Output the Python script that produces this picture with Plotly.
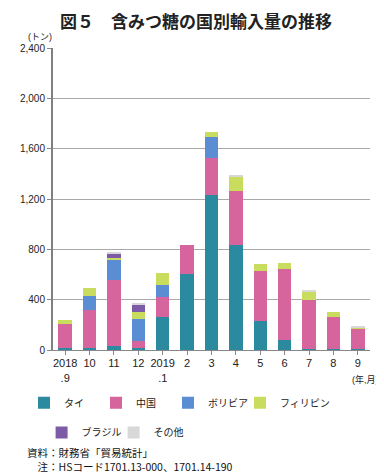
import plotly.graph_objects as go

categories = ["2018<br>.9", "10", "11", "12", "2019<br>.1", "2", "3", "4", "5", "6", "7", "8", "9"]
thai = [14, 14, 35, 14, 262, 607, 1231, 834, 233, 77, 10, 10, 10]
china = [196, 300, 525, 61, 158, 231, 291, 431, 397, 566, 390, 250, 153]
bolivia = [0, 119, 158, 173, 98, 0, 172, 0, 0, 0, 0, 0, 0]
philippines = [27, 61, 14, 55, 94, 0, 40, 117, 57, 45, 65, 40, 16]
brazil = [0, 0, 32, 56, 0, 0, 0, 0, 0, 0, 0, 0, 0]
other = [0, 0, 16, 16, 0, 0, 0, 10, 0, 0, 12, 0, 8]
y_ticks = [0, 400, 800, 1200, 1600, 2000, 2400]
y_tick_labels = ["0", "400", "800", "1,200", "1,600", "2,000", "2,400"]

series = [
    ("タイ", thai, "#2b8a9f", "legend"),
    ("中国", china, "#d6659d", "legend"),
    ("ボリビア", bolivia, "#5b8dd5", "legend"),
    ("フィリピン", philippines, "#c9dc5e", "legend"),
    ("ブラジル", brazil, "#7e5ba7", "legend2"),
    ("その他", other, "#d8d8d8", "legend2"),
]

FONT = "Liberation Sans, Noto Sans CJK JP, sans-serif"

fig = go.Figure()
x_idx = list(range(len(categories)))
for name, vals, color, lg in series:
    fig.add_trace(go.Bar(x=x_idx, y=vals, name=name, marker=dict(color=color, line=dict(width=0)),
                         legend=lg))
# invisible spacer entry so the last legend label is not clipped by the legend box
fig.add_trace(go.Bar(x=[0], y=[0], name=" ",
                     marker=dict(color="rgba(0,0,0,0)", line=dict(width=0, color="rgba(0,0,0,0)")),
                     hoverinfo="skip", legend="legend"))

legend_common = dict(orientation="h", xanchor="left", yanchor="middle",
                     font=dict(family=FONT, size=10, color="#222"),
                     entrywidth=27, entrywidthmode="pixels", itemwidth=30,
                     bgcolor="rgba(0,0,0,0)", traceorder="normal")

# the page body adds an 8px margin, so the figure is 8px smaller than the window
fig.update_layout(
    width=376, height=467,
    margin=dict(l=29, r=14, t=40, b=125),
    paper_bgcolor="white", plot_bgcolor="white",
    barmode="stack", bargap=0.45,
    font=dict(family=FONT, size=10, color="#222"),
    title=dict(text="<b>図５　含みつ糖の国別輸入量の推移</b>", x=0.5, xanchor="center",
               xref="container", y=0.9695, yanchor="middle", yref="container",
               font=dict(family="Noto Sans CJK JP", size=17, color="#222")),
    legend=dict(x=-0.036, y=-0.175, **legend_common),
    legend2=dict(x=-0.036, y=-0.273, **legend_common),
    xaxis=dict(tickmode="array", tickvals=x_idx, ticktext=categories, range=[-0.5, 12.5],
               tickson="boundaries", ticks="outside", ticklen=4, tickcolor="#888",
               showline=True, linecolor="#888", linewidth=1, showgrid=False,
               ticklabelstandoff=-1,
               tickfont=dict(family=FONT, size=11, color="#222")),
    yaxis=dict(range=[0, 2400], tickvals=y_ticks, ticktext=y_tick_labels,
               ticks="outside", ticklen=4, tickcolor="#888",
               showline=True, linecolor="#808080", linewidth=2,
               showgrid=True, gridcolor="#aaaaaa", gridwidth=1,
               zeroline=False, tickfont=dict(family=FONT, size=10, color="#222")),
    annotations=[
        dict(text="(トン)", x=-0.042, y=1.036, xref="paper", yref="paper", showarrow=False,
             xanchor="center", yanchor="middle", font=dict(family=FONT, size=9, color="#222")),
        dict(text="(年,月)", x=1.036, y=-0.099, xref="paper", yref="paper", showarrow=False,
             xanchor="right", yanchor="middle", font=dict(family=FONT, size=9, color="#222")),
        dict(text="資料：財務省「貿易統計」", x=-0.087, y=-0.338, xref="paper", yref="paper",
             showarrow=False, xanchor="left", yanchor="middle",
             font=dict(family="Noto Sans CJK JP", size=10.5, color="#111")),
        dict(text="　注：HSコード1701.13-000、1701.14-190", x=-0.087, y=-0.387, xref="paper", yref="paper",
             showarrow=False, xanchor="left", yanchor="middle",
             font=dict(family="Noto Sans CJK JP", size=10.5, color="#111")),
    ],
)

fig.write_html("out.html")
